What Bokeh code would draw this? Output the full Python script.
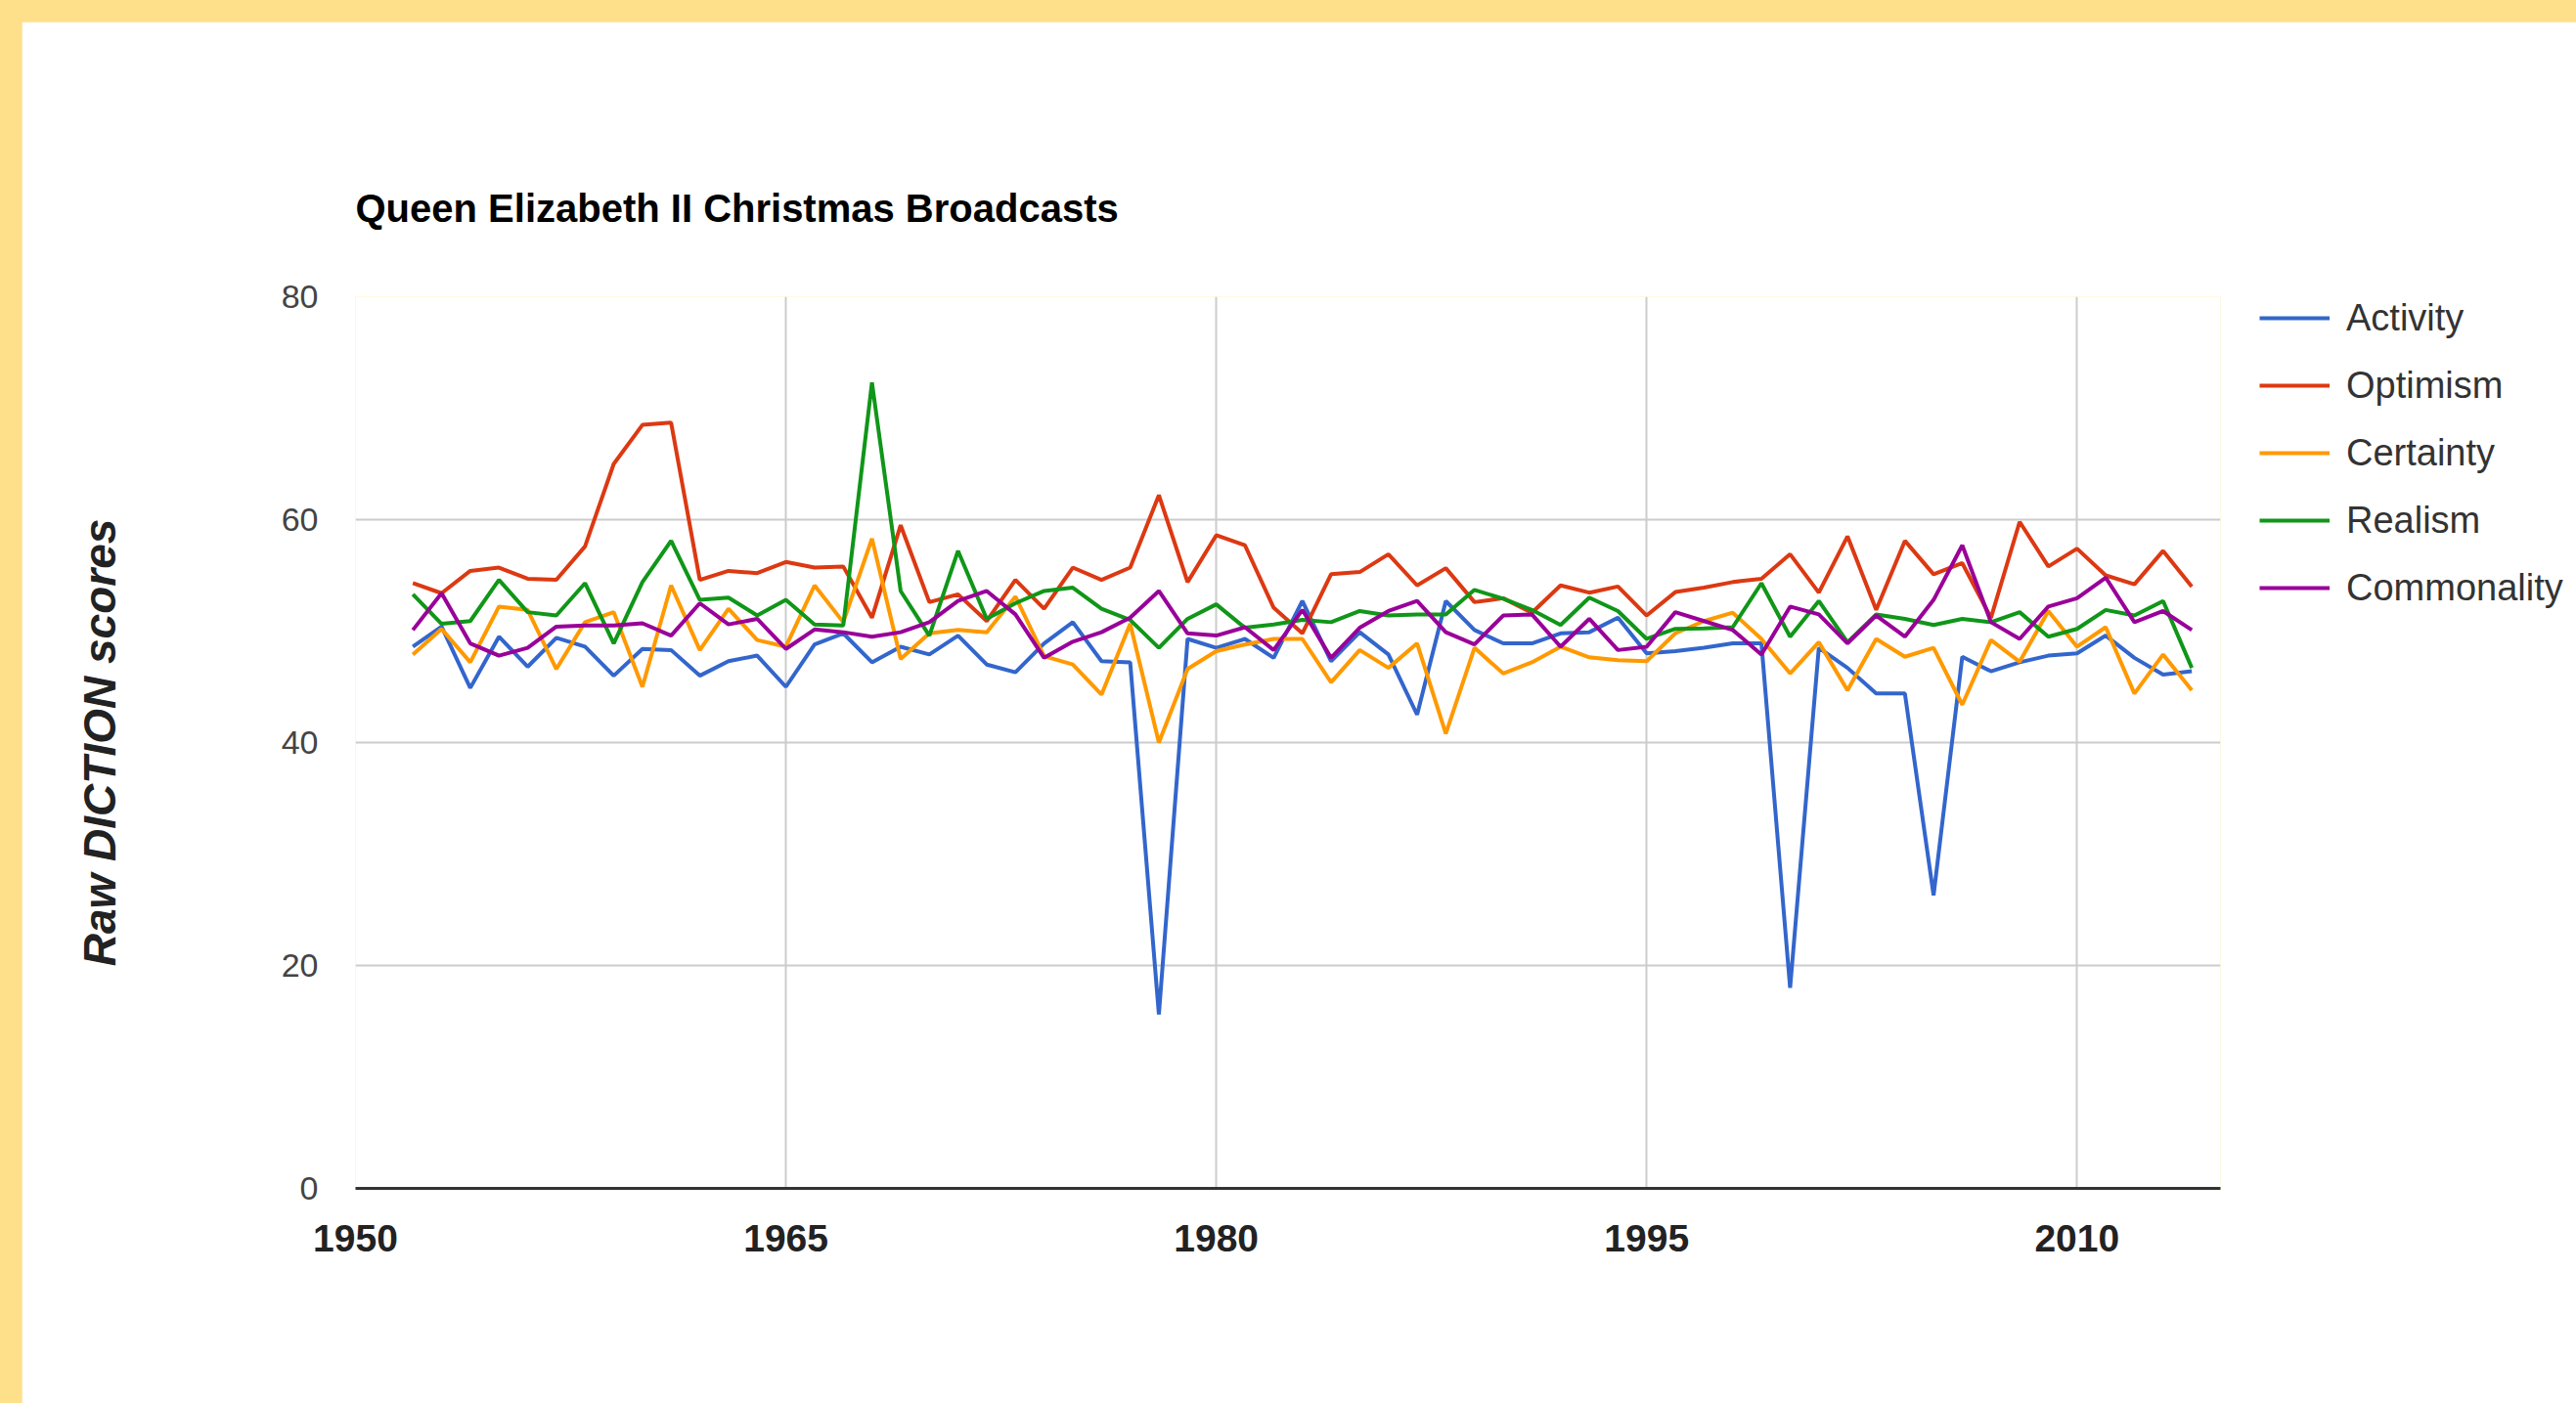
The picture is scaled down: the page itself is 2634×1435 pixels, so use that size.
from bokeh.plotting import figure
from bokeh.models import Range1d, FixedTicker, Legend, LegendItem
from bokeh.embed import file_html
from bokeh.resources import INLINE

years = list(range(1952, 2015))

activity = [48.6, 50.4, 44.9, 49.5, 46.8, 49.4, 48.6, 46.0, 48.4, 48.3,
            46.0, 47.3, 47.8, 45.0, 48.8, 49.8, 47.2, 48.6, 47.9, 49.6,
            47.0, 46.3, 48.9, 50.8, 47.3, 47.2, 15.6, 49.3, 48.5, 49.3,
            47.6, 52.7, 47.3, 49.9, 47.9, 42.5, 52.7, 50.1, 48.9, 48.9,
            49.8, 49.9, 51.2, 48.0, 48.2, 48.5, 48.9, 48.9, 18.0, 48.5,
            46.7, 44.4, 44.4, 26.3, 47.7, 46.4, 47.2, 47.8, 48.0, 49.6,
            47.6, 46.1, 46.4]

optimism = [54.3, 53.4, 55.4, 55.7, 54.7, 54.6, 57.6, 65.0, 68.5, 68.7,
            54.6, 55.4, 55.2, 56.2, 55.7, 55.8, 51.2, 59.5, 52.6, 53.3,
            50.9, 54.6, 52.0, 55.7, 54.6, 55.7, 62.2, 54.4, 58.6, 57.7,
            52.1, 49.8, 55.1, 55.3, 56.9, 54.1, 55.65, 52.6, 52.95, 51.65,
            54.1, 53.45, 54.0, 51.4, 53.5, 53.9, 54.4, 54.7, 56.9, 53.45,
            58.5, 51.9, 58.1, 55.1, 56.1, 51.2, 59.8, 55.8, 57.4, 55.0,
            54.2, 57.2, 54.0]

certainty = [47.9, 50.2, 47.2, 52.2, 51.9, 46.6, 50.8, 51.7, 45.0, 54.1,
             48.3, 52.0, 49.2, 48.6, 54.1, 50.8, 58.3, 47.5, 49.8, 50.1,
             49.9, 53.1, 47.75, 47.0, 44.3, 50.65, 40.0, 46.6, 48.2, 48.8,
             49.3, 49.3, 45.4, 48.3, 46.7, 48.9, 40.8, 48.5, 46.2, 47.2,
             48.6, 47.65, 47.4, 47.3, 49.8, 50.9, 51.65, 49.3, 46.2, 49.0,
             44.7, 49.3, 47.7, 48.5, 43.4, 49.2, 47.25, 51.8, 48.6, 50.35,
             44.4, 47.9, 44.7]

realism = [53.3, 50.65, 50.9, 54.6, 51.7, 51.4, 54.3, 48.9, 54.4, 58.1,
           52.8, 53.0, 51.4, 52.8, 50.6, 50.5, 72.3, 53.6, 49.6, 57.2,
           51.1, 52.5, 53.6, 53.9, 52.0, 51.0, 48.5, 51.1, 52.4, 50.3,
           50.6, 51.0, 50.8, 51.8, 51.4, 51.5, 51.5, 53.7, 52.9, 51.9,
           50.55, 53.0, 51.8, 49.3, 50.2, 50.25, 50.35, 54.3, 49.5, 52.7,
           49.0, 51.5, 51.1, 50.55, 51.1, 50.8, 51.7, 49.5, 50.2, 51.9,
           51.4, 52.7, 46.7]

commonality = [50.1, 53.4, 48.9, 47.8, 48.5, 50.4, 50.5, 50.5, 50.7, 49.6,
               52.5, 50.6, 51.1, 48.4, 50.15, 49.9, 49.5, 49.9, 50.8, 52.7,
               53.6, 51.5, 47.6, 49.05, 49.9, 51.2, 53.6, 49.8, 49.6, 50.35,
               48.3, 51.9, 47.6, 50.3, 51.8, 52.7, 49.9, 48.8, 51.4, 51.5,
               48.6, 51.1, 48.3, 48.6, 51.7, 50.9, 50.1, 47.9, 52.2, 51.5,
               48.9, 51.4, 49.5, 52.8, 57.7, 50.8, 49.3, 52.2, 52.95, 54.8,
               50.8, 51.8, 50.1]

series_names = ["Activity", "Optimism", "Certainty", "Realism", "Commonality"]
series_values = [activity, optimism, certainty, realism, commonality]
series_colors = ["#3366CC", "#DC3912", "#FF9900", "#109618", "#990099"]

x_ticks = [1950, 1965, 1980, 1995, 2010]
y_ticks = [0, 20, 40, 60, 80]

FONT = "Liberation Sans"

p = figure(frame_width=1907, frame_height=912,
           output_backend="svg", toolbar_location=None,
           x_range=Range1d(1950, 2015), y_range=Range1d(0, 80),
           min_border_left=341, min_border_right=420,
           min_border_top=281, min_border_bottom=260,
           title="Queen Elizabeth II Christmas Broadcasts")
p.background_fill_color = "white"
p.border_fill_color = "white"
p.outline_line_color = None

p.title.text_font = FONT
p.title.text_font_size = "40px"
p.title.text_font_style = "bold"
p.title.text_color = "#000000"
p.title.align = "left"
p.title.standoff = 137

p.xgrid.ticker = FixedTicker(ticks=x_ticks)
p.ygrid.ticker = FixedTicker(ticks=y_ticks)
p.xgrid.grid_line_color = "#CCCCCC"
p.ygrid.grid_line_color = "#CCCCCC"
p.xgrid.grid_line_width = 2
p.ygrid.grid_line_width = 2

xa = p.xaxis[0]
xa.ticker = FixedTicker(ticks=x_ticks)
xa.axis_line_color = "#333333"
xa.axis_line_width = 3
xa.major_tick_line_color = None
xa.minor_tick_line_color = None
xa.major_tick_out = 0
xa.major_label_standoff = 37
xa.major_label_text_font = FONT
xa.major_label_text_font_size = "39px"
xa.major_label_text_font_style = "bold"
xa.major_label_text_color = "#222222"

ya = p.yaxis[0]
ya.ticker = FixedTicker(ticks=y_ticks)
ya.axis_line_color = None
ya.major_tick_line_color = None
ya.minor_tick_line_color = None
ya.major_tick_out = 0
ya.major_label_standoff = 38
ya.major_label_text_font = FONT
ya.major_label_text_font_size = "34px"
ya.major_label_text_color = "#444444"
ya.axis_label = "Raw DICTION scores"
ya.axis_label_text_font = FONT
ya.axis_label_text_font_size = "46px"
ya.axis_label_text_font_style = "bold italic"
ya.axis_label_text_color = "#222222"
ya.axis_label_standoff = 157

items = []
for name, vals, col in zip(series_names, series_values, series_colors):
    r = p.line(years, vals, line_color=col, line_width=4)
    items.append(LegendItem(label=name, renderers=[r]))

legend = Legend(items=items, location=(40, 591))
legend.padding = 0
legend.margin = 0
legend.spacing = 23
legend.glyph_height = 46
legend.glyph_width = 72
legend.label_height = 46
legend.label_standoff = 17
legend.label_text_font = FONT
legend.label_text_font_size = "38px"
legend.label_text_color = "#333333"
legend.border_line_color = None
legend.background_fill_alpha = 0
p.add_layout(legend, "right")

html = file_html(p, INLINE)
html = html.replace("</head>",
                    "<style>html, body {background-color: #FFE08A !important; overflow: hidden;}"
                    " body {margin: 22px 0 0 22px !important;}</style></head>", 1)
open("out.html", "w").write(html)
